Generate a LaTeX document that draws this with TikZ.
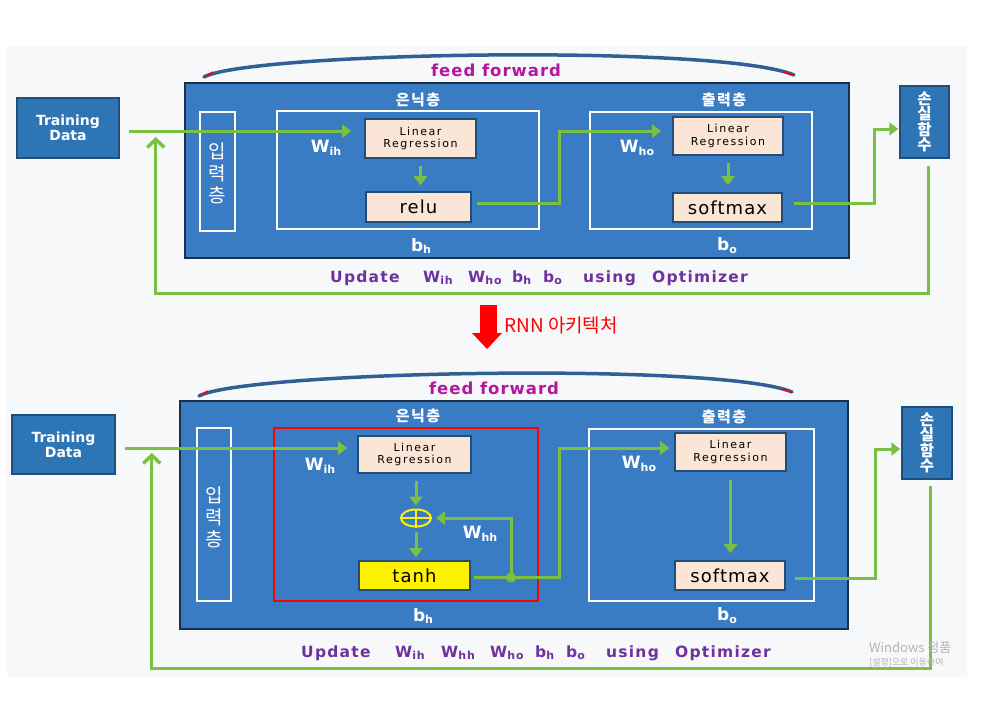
\documentclass[tikz,border=0pt]{standalone}
\usepackage{fontspec}
\usepackage{graphicx}
\setmainfont{DejaVu Sans}
\newfontfamily\kr{Noto Sans CJK KR}
\usetikzlibrary{arrows.meta,shapes.geometric,calc}
\definecolor{bgc}{HTML}{F7F8F9}
\definecolor{mainblue}{HTML}{3A7CC3}
\definecolor{tdblue}{HTML}{2E75B6}
\definecolor{dkblue}{HTML}{1F4E79}
\definecolor{edge}{HTML}{1A2F4A}
\definecolor{peach}{HTML}{FBE5D6}
\definecolor{grn}{HTML}{7AC143}
\definecolor{ffmag}{HTML}{B4179E}
\definecolor{upur}{HTML}{7030A0}
\definecolor{arcblue}{HTML}{2F5F93}
\definecolor{wm}{HTML}{B4B4B4}
\definecolor{yel}{HTML}{FFF200}
\newcommand\mysub[2]{#1\raisebox{-0.3ex}{\fontsize{11}{11}\selectfont #2}}
\begin{document}
\begin{tikzpicture}[x=1pt,y=-1pt,
  tdbox/.style={draw=dkblue,line width=1.5pt,fill=tdblue,text=white,align=center,
     font=\fontsize{14}{15}\selectfont\bfseries,inner sep=0pt},
  mainbox/.style={draw=edge,line width=1.2pt,fill=mainblue,inner sep=0pt},
  wrect/.style={draw=white,line width=1.6pt,inner sep=0pt},
  rrect/.style={draw=red,line width=2pt,inner sep=0pt},
  pbox/.style={draw=dkblue,line width=1.6pt,fill=peach,inner sep=0pt,align=center},
  lrtext/.style={font=\fontsize{11}{12.7}\selectfont\addfontfeature{LetterSpace=14}},
  optext/.style={font=\fontsize{18}{18}\selectfont\addfontfeature{LetterSpace=6}},
  losbox/.style={draw=dkblue,line width=1.5pt,fill=tdblue,text=white,align=center,
     font=\kr\bfseries\fontsize{15.5}{15.3}\selectfont,inner sep=0pt},
  vtext/.style={text=white,align=center,font=\kr\fontsize{19}{22}\selectfont},
  layer/.style={text=white,font=\kr\bfseries\fontsize{15}{15}\selectfont\addfontfeature{LetterSpace=10}},
  wlab/.style={text=white,font=\fontsize{17}{17}\selectfont\bfseries},
  ff/.style={text=ffmag,font=\fontsize{16.5}{16}\selectfont\bfseries\addfontfeature{LetterSpace=6}},
  upd/.style={text=upur,anchor=base west,inner sep=0pt,font=\fontsize{15.5}{16}\selectfont\bfseries\addfontfeature{LetterSpace=8}},
  gline/.style={draw=grn,line width=3pt},
  garrow/.style={gline,-{Triangle[length=9pt,width=13pt]}},
  gback/.style={gline,-{Straight Barb[length=8pt,width=17pt,line width=3.5pt]}},
  arcline/.style={draw=arcblue,line width=3.5pt,line cap=round},
  redtip/.style={draw=red,line width=1.5pt},
  jdot/.style={circle,fill=grn,minimum size=10pt,inner sep=0pt}
]
\useasboundingbox (0,0) rectangle (1007,709);
\fill[white] (0,0) rectangle (1007,709);
\fill[bgc] (7,46) rectangle (967,677);

% ================= TOP =================
\node[tdbox,minimum width=102pt,minimum height=60pt] (td1) at (68,128) {Training\\Data};
\node[mainbox,minimum width=664pt,minimum height=175pt] (main1) at (517,170.5) {};
\node[wrect,minimum width=35pt,minimum height=119pt] (in1) at (217.5,171.5) {};
\node[vtext] (in1t) at (217.5,173) {입\\력\\층};
\node[wrect,minimum width=262pt,minimum height=118pt] (hid1) at (408,170) {};
\node[layer] (hid1t) at (418,100) {은닉층};
\node[pbox,minimum width=111pt,minimum height=39pt,lrtext] (lr1) at (420.5,138.5) {Linear\\Regression};
\node[pbox,minimum width=105pt,minimum height=30pt,optext] (relu1) at (418.5,207) {relu};
\node[wlab] (wih1) at (326,148) {\mysub{W}{ih}};
\node[wlab] (bh1) at (421,246) {\mysub{b}{h}};
\node[wrect,minimum width=222pt,minimum height=117pt] (out1) at (701,170.5) {};
\node[layer] (out1t) at (724,100) {출력층};
\node[pbox,minimum width=110pt,minimum height=38pt,lrtext] (lro1) at (728,136) {Linear\\Regression};
\node[pbox,minimum width=109pt,minimum height=29pt,optext] (sm1) at (727.5,207.5) {softmax};
\node[wlab] (who1) at (637,148) {\mysub{W}{ho}};
\node[wlab] (bo1) at (727,246) {\mysub{b}{o}};
\node[losbox,minimum width=49pt,minimum height=72pt] (loss1) at (924.5,122) {손\\실\\함\\수};
\node[ff] (ff1) at (496,70) {feed forward};
\draw[arcline] (204,77) .. controls (250,52) and (720,44) .. (794,75);
\draw[redtip] (206,76) -- (213,72);
\draw[redtip] (784,72) -- (793,75);

\node[upd] (u1a) at (330,282) {Update};
\node[upd] (u1b) at (423,282) {\mysub{W}{ih}};
\node[upd] (u1c) at (468,282) {\mysub{W}{ho}};
\node[upd] (u1d) at (512,282) {\mysub{b}{h}};
\node[upd] (u1e) at (543,282) {\mysub{b}{o}};
\node[upd] (u1f) at (583,282) {using};
\node[upd] (u1g) at (652,282) {Optimizer};

% top connectors
\draw[garrow] ($(td1.east)+(9,3)$) -- ($(lr1.west)+(-13,-7.5)$);
\draw[garrow,shorten <=7pt,shorten >=6pt] (lr1.south) -- (lr1.south |- relu1.north);
\draw[garrow] ($(relu1.east)+(5,-4)$) -| ($(lro1.west)+(-113,-5)$) -- ($(lro1.west)+(-11,-5)$);
\draw[garrow,shorten <=7pt,shorten >=7pt] (lro1.south) -- (lro1.south |- sm1.north);
\draw[garrow] ($(sm1.east)+(11,-4.5)$) -| ($(loss1.west)+(-25,7)$) -- ($(loss1.west)+(-1,7)$);
\draw[gback] ($(loss1.south)+(3.5,7)$) -- ++(0,128) -| ($(td1.east)+(36,9)$);

% ================= ARROW =================
\fill[red] (480,305) rectangle (497,334);
\fill[red] (472,333) -- (502,333) -- (487,349) -- cycle;
\node[text=red,anchor=west,inner sep=0pt,font=\kr\fontsize{19}{19}\selectfont] (rnn) at (504,325) {RNN 아키텍처};

% ================= BOTTOM =================
\node[tdbox,minimum width=103pt,minimum height=59pt] (td2) at (63.5,444.5) {Training\\Data};
\node[mainbox,minimum width=668pt,minimum height=228pt] (main2) at (514,515) {};
\node[wrect,minimum width=34pt,minimum height=173pt] (in2) at (214,514.5) {};
\node[vtext] (in2t) at (214,517) {입\\력\\층};
\node[rrect,minimum width=264pt,minimum height=173pt] (red2) at (406,514.5) {};
\node[layer] (hid2t) at (418,416) {은닉층};
\node[pbox,minimum width=113pt,minimum height=37pt,lrtext] (lr2) at (414.5,454.5) {Linear\\Regression};
\node[ellipse,draw=yellow,line width=2pt,minimum width=30pt,minimum height=17pt,inner sep=0pt] (plus2) at (416,518) {};
\draw[yellow,line width=2pt] (plus2.north) -- (plus2.south) (plus2.west) -- (plus2.east);
\node[pbox,fill=yel,minimum width=111pt,minimum height=29pt,optext] (tanh2) at (414.5,575.5) {tanh};
\node[wlab] (wih2) at (320,466) {\mysub{W}{ih}};
\node[wlab] (whh2) at (480,534) {\mysub{W}{hh}};
\node[wlab] (bh2) at (423,616) {\mysub{b}{h}};
\node[wrect,minimum width=225pt,minimum height=172pt] (out2) at (701.5,515) {};
\node[layer] (out2t) at (724,417) {출력층};
\node[pbox,minimum width=111pt,minimum height=38pt,lrtext] (lro2) at (730.5,452) {Linear\\Regression};
\node[pbox,minimum width=110pt,minimum height=29pt,optext] (sm2) at (730,575.5) {softmax};
\node[wlab] (who2) at (639,464) {\mysub{W}{ho}};
\node[wlab] (bo2) at (727,616) {\mysub{b}{o}};
\node[losbox,minimum width=50pt,minimum height=72pt] (loss2) at (927,443) {손\\실\\함\\수};
\node[ff] (ff2) at (494,388) {feed forward};
\draw[arcline] (199,396) .. controls (245,371) and (720,362) .. (792,392);
\draw[redtip] (201,395) -- (208,391);
\draw[redtip] (782,389) -- (791,392);

\node[upd] (u2a) at (301,657) {Update};
\node[upd] (u2b) at (395,657) {\mysub{W}{ih}};
\node[upd] (u2c) at (441,657) {\mysub{W}{hh}};
\node[upd] (u2d) at (490,657) {\mysub{W}{ho}};
\node[upd] (u2e) at (535,657) {\mysub{b}{h}};
\node[upd] (u2f) at (566,657) {\mysub{b}{o}};
\node[upd] (u2g) at (606,657) {using};
\node[upd] (u2h) at (675,657) {Optimizer};

% bottom connectors
\draw[garrow] ($(td2.east)+(9,3.5)$) -- ($(lr2.west)+(-10,-6.5)$);
\draw[garrow,shorten <=7pt,shorten >=3pt] (lr2.south -| plus2.north) -- (plus2.north);
\draw[garrow,shorten <=4pt,shorten >=3pt] (plus2.south) -- (plus2.south |- tanh2.north);
\node[jdot] (j2) at (511,577.5) {};
\draw[gline] ($(tanh2.east)+(3,2)$) -- (j2.center);
\draw[garrow,shorten >=4pt] (j2.center) |- (plus2.east);
\draw[garrow] (j2.center) -| ($(lro2.west)+(-115,-4)$) -- ($(lro2.west)+(-5,-4)$);
\draw[garrow,shorten <=8pt,shorten >=7pt] (lro2.south) -- (lro2.south |- sm2.north);
\draw[garrow] ($(sm2.east)+(9,2.5)$) -| ($(loss2.west)+(-26,6)$) -- ($(loss2.west)+(-1,6)$);
\draw[gback] ($(loss2.south)+(3,6)$) -- ++(0,183) -| ($(td2.east)+(36,8.5)$);

% watermark
\node[text=wm,anchor=west,inner sep=0pt,font=\kr\fontsize{13}{13}\selectfont] (wm1) at (869,648) {Windows 정품};
\node[text=wm,anchor=west,inner sep=0pt,font=\kr\fontsize{9}{9}\selectfont] (wm2) at (869,663) {[설정]으로 이동하여};
\end{tikzpicture}
\end{document}
